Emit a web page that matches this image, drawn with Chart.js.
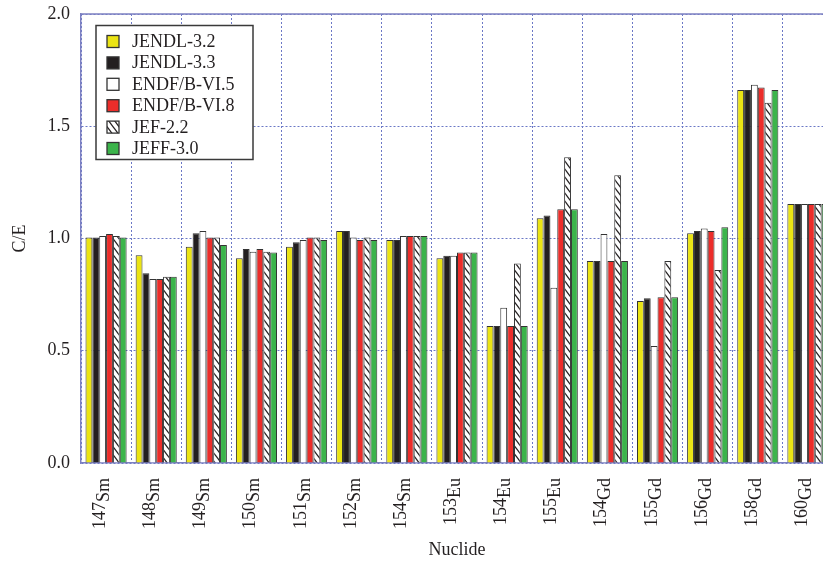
<!DOCTYPE html>
<html>
<head>
<meta charset="utf-8">
<script src="https://cdn.jsdelivr.net/npm/chart.js@4.4.1/dist/chart.umd.min.js"></script>
<style>
  html, body { margin: 0; padding: 0; background: #fff; overflow: hidden; }
  /* plot is cropped on the right in the reference, so the canvas is a bit wider than the window */
  #wrap { width: 833px; height: 561px; position: relative; }
</style>
</head>
<body>
<div id="wrap"><canvas id="chart"></canvas></div>
<script>
// nuclides: mass number (drawn as superscript) + element
const massNumbers = ['147', '148', '149', '150', '151', '152', '154', '153', '154', '155', '154', '155', '156', '158', '160'];
const elements    = ['Sm', 'Sm', 'Sm', 'Sm', 'Sm', 'Sm', 'Sm', 'Eu', 'Eu', 'Eu', 'Gd', 'Gd', 'Gd', 'Gd', 'Gd'];

// C/E per library
const jendl32 = [1.005, 0.925, 0.963, 0.912, 0.963, 1.033, 0.993, 0.912, 0.61, 1.09, 0.90, 0.722, 1.023, 1.661, 1.154];
const jendl33 = [1.005, 0.845, 1.023, 0.953, 0.983, 1.033, 0.993, 0.923, 0.61, 1.103, 0.90, 0.734, 1.033, 1.661, 1.154];
const endf5   = [1.011, 0.82, 1.033, 0.941, 0.993, 1.005, 1.011, 0.923, 0.692, 0.781, 1.02, 0.521, 1.044, 1.685, 1.154];
const endf8   = [1.02, 0.82, 1.005, 0.953, 1.005, 0.993, 1.011, 0.938, 0.61, 1.13, 0.90, 0.738, 1.033, 1.673, 1.154];
const jef22   = [1.011, 0.83, 1.005, 0.941, 1.005, 1.005, 1.011, 0.938, 0.889, 1.362, 1.282, 0.90, 0.86, 1.605, 1.154];
const jeff30  = [1.005, 0.83, 0.971, 0.938, 0.993, 0.993, 1.011, 0.938, 0.61, 1.13, 0.90, 0.738, 1.05, 1.661, 1.154];

const yTicks = [0, 0.5, 1.0, 1.5, 2.0];

const FONT = '"Liberation Serif", "Times New Roman", serif';
const TEXT = '#231f20';
const AXIS = '#7c80c2';
const GRID = '#6b78c6';
const EDGE = '#333333';

function hatchPattern() {
    const w = 6, h = 8;
    const c = document.createElement('canvas');
    c.width = w; c.height = h;
    const g = c.getContext('2d');
    g.fillStyle = '#fff';
    g.fillRect(0, 0, w, h);
    g.strokeStyle = '#231f20';
    g.lineWidth = 1.3;
    for (const dx of [-w, 0, w]) {
        g.beginPath();
        g.moveTo(dx - w, -h);
        g.lineTo(dx + 2 * w, 2 * h);
        g.stroke();
    }
    return g.createPattern(c, 'repeat');
}

const chartEl = document.getElementById('chart');
const hatch = hatchPattern();

const series = [
    { label: 'JENDL-3.2',   data: jendl32, color: '#ebe414' },
    { label: 'JENDL-3.3',   data: jendl33, color: '#231f20' },
    { label: 'ENDF/B-VI.5', data: endf5,   color: '#ffffff' },
    { label: 'ENDF/B-VI.8', data: endf8,   color: '#ec2d2a' },
    { label: 'JEF-2.2',     data: jef22,   color: hatch },
    { label: 'JEFF-3.0',    data: jeff30,  color: '#3cb44b' },
];

// legend box inside the plot, top-left
const legendBox = {
    id: 'legendBox',
    afterDatasetsDraw(chart) {
        const { ctx, chartArea } = chart;
        const x0 = chartArea.left + 15, y0 = chartArea.top + 11.5;
        const w = 157, h = 134;
        ctx.save();
        ctx.fillStyle = '#fff';
        ctx.fillRect(x0, y0, w, h);
        ctx.strokeStyle = '#3a3a3a';
        ctx.lineWidth = 1.5;
        ctx.strokeRect(x0, y0, w, h);
        ctx.font = '18px ' + FONT;
        ctx.textBaseline = 'alphabetic';
        chart.data.datasets.forEach((ds, i) => {
            const sy = y0 + 10 + i * 21.4;
            ctx.fillStyle = ds.backgroundColor;
            ctx.fillRect(x0 + 11, sy, 12, 12);
            ctx.strokeStyle = EDGE;
            ctx.lineWidth = 1.3;
            ctx.strokeRect(x0 + 11, sy, 12, 12);
            ctx.fillStyle = TEXT;
            ctx.fillText(ds.label, x0 + 36, sy + 11.5);
        });
        ctx.restore();
    },
};

// top frame line
const frame = {
    id: 'frame',
    beforeDatasetsDraw(chart) {
        const { ctx, chartArea } = chart;
        ctx.save();
        ctx.strokeStyle = AXIS;
        ctx.lineWidth = 1.5;
        ctx.beginPath();
        ctx.moveTo(chartArea.left, chartArea.top);
        ctx.lineTo(chartArea.right, chartArea.top);
        ctx.stroke();
        ctx.restore();
    },
};

// rotated nuclide labels with superscript mass number
const nuclideLabels = {
    id: 'nuclideLabels',
    afterDraw(chart) {
        const { ctx, chartArea, scales: { x } } = chart;
        ctx.save();
        ctx.fillStyle = TEXT;
        ctx.font = '18px ' + FONT;
        elements.forEach((el, i) => {
            const px = x.getPixelForValue(i);
            ctx.save();
            ctx.translate(px + 3, chartArea.bottom + 15);
            ctx.rotate(-Math.PI / 2);
            ctx.textAlign = 'right';
            ctx.textBaseline = 'alphabetic';
            ctx.fillText(el, 0, 0);
            const w = ctx.measureText(el).width;
            ctx.fillText(massNumbers[i], -w, -4);
            ctx.restore();
        });
        ctx.restore();
    },
};

new Chart(chartEl, {
    type: 'bar',
    data: {
        labels: elements.map((el, i) => massNumbers[i] + el),
        datasets: series.map((s) => ({
            label: s.label,
            data: s.data,
            backgroundColor: s.color,
            borderColor: EDGE,
            borderWidth: 1,
            barPercentage: 1,
            categoryPercentage: 0.82,
        })),
    },
    options: {
        responsive: true,
        maintainAspectRatio: false,
        animation: false,
        layout: { padding: { top: 14, left: 0, right: 0, bottom: 0 } },
        plugins: {
            legend: { display: false },
            tooltip: { enabled: false },
        },
        scales: {
            x: {
                ticks: { display: false },
                grid: { color: GRID, drawTicks: false, offset: true },
                border: { color: AXIS, width: 1.5, dash: [2, 2] },
                title: {
                    display: true,
                    text: 'Nuclide',
                    color: TEXT,
                    font: { family: FONT, size: 18 },
                    padding: { top: 0, bottom: 0 },
                },
                afterFit: (s) => { s.height = 98; },
            },
            y: {
                min: 0,
                max: 2,
                afterBuildTicks: (s) => { s.ticks = yTicks.map((v) => ({ value: v })); },
                ticks: {
                    color: TEXT,
                    font: { family: FONT, size: 18 },
                    padding: 11,
                    callback: (v) => v.toFixed(1),
                },
                grid: { color: GRID, drawTicks: false },
                border: { color: AXIS, width: 1.5, dash: [2, 2] },
                title: {
                    display: true,
                    text: 'C/E',
                    color: TEXT,
                    font: { family: FONT, size: 18 },
                    padding: { top: 9, bottom: 0 },
                },
                afterFit: (s) => { s.width = 81; s.paddingTop = 0; s.paddingBottom = 0; },
            },
        },
    },
    plugins: [frame, legendBox, nuclideLabels],
});
</script>
</body>
</html>
